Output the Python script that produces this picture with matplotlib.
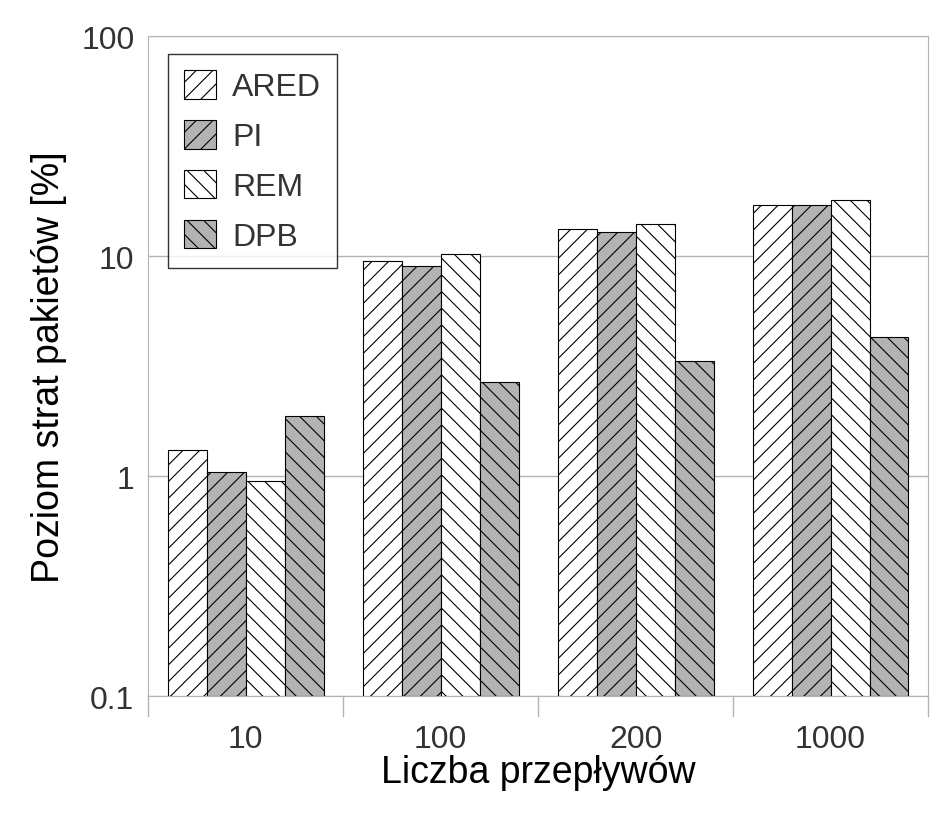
import matplotlib
matplotlib.use("Agg")
import matplotlib.pyplot as plt
import numpy as np

plt.rcParams["font.family"] = "Liberation Sans"
plt.rcParams["hatch.linewidth"] = 0.8

categories = ["10", "100", "200", "1000"]
series = ["ARED", "PI", "REM", "DPB"]
ared = [1.22, 9.4, 13.2, 17.0]
pi = [0.95, 8.9, 12.8, 17.0]
rem = [0.85, 10.1, 13.9, 17.9]
dpb = [1.78, 2.57, 3.24, 4.2]
values = [ared, pi, rem, dpb]
colors = ["white", "#b3b3b3", "white", "#b3b3b3"]
hatches = ["//", "//", "\\\\", "\\\\"]

fig = plt.figure(figsize=(9.45, 8.29), dpi=100)
ax = fig.add_axes([0.157, 0.159, 0.825, 0.796])
x = np.arange(len(categories))
w = 0.2
for i, (s, v) in enumerate(zip(series, values)):
    ax.bar(x + (i - 1.5) * w, v, w, bottom=0.1, color=colors[i], hatch=hatches[i],
           edgecolor="black", linewidth=0.8, label=s, zorder=3)
ax.set_yscale("log")
ax.set_ylim(0.1, 100)
ax.set_xlim(-0.5, len(categories) - 0.5)
ax.set_yticks([0.1, 1, 10, 100])
ax.set_yticklabels(["0.1", "1", "10", "100"])
ax.yaxis.set_minor_locator(matplotlib.ticker.NullLocator())
ax.grid(axis="y", color="#b3b3b3", linewidth=1, zorder=0)
ax.set_xticks(x)
ax.set_xticklabels(categories)
ax.tick_params(axis="x", length=0, pad=20, labelsize=23, colors="#333333")
ax.tick_params(axis="y", length=0, pad=10, labelsize=23, colors="#333333")
for b in np.arange(-0.5, len(categories), 1.0):
    ax.plot([b, b], [0.1, 0.1 * 10 ** (-20 / 220)], color="#b3b3b3", lw=1, clip_on=False)
for sp in ["top", "right", "left", "bottom"]:
    ax.spines[sp].set_color("#b3b3b3")
ax.set_xlabel("Liczba przepływów", fontsize=27, labelpad=0)
ax.set_ylabel("Poziom strat pakietów [%]", fontsize=27, labelpad=10)
leg = ax.legend(loc="upper left", bbox_to_anchor=(0.005, 0.997), fontsize=23, frameon=True,
                fancybox=False, edgecolor="black", handlelength=1.0, handleheight=1.0,
                handletextpad=0.5, labelspacing=0.55, borderpad=0.5)
leg.get_frame().set_linewidth(1)
for t in leg.get_texts():
    t.set_color("#333333")
fig.savefig("out.png", dpi=100)
